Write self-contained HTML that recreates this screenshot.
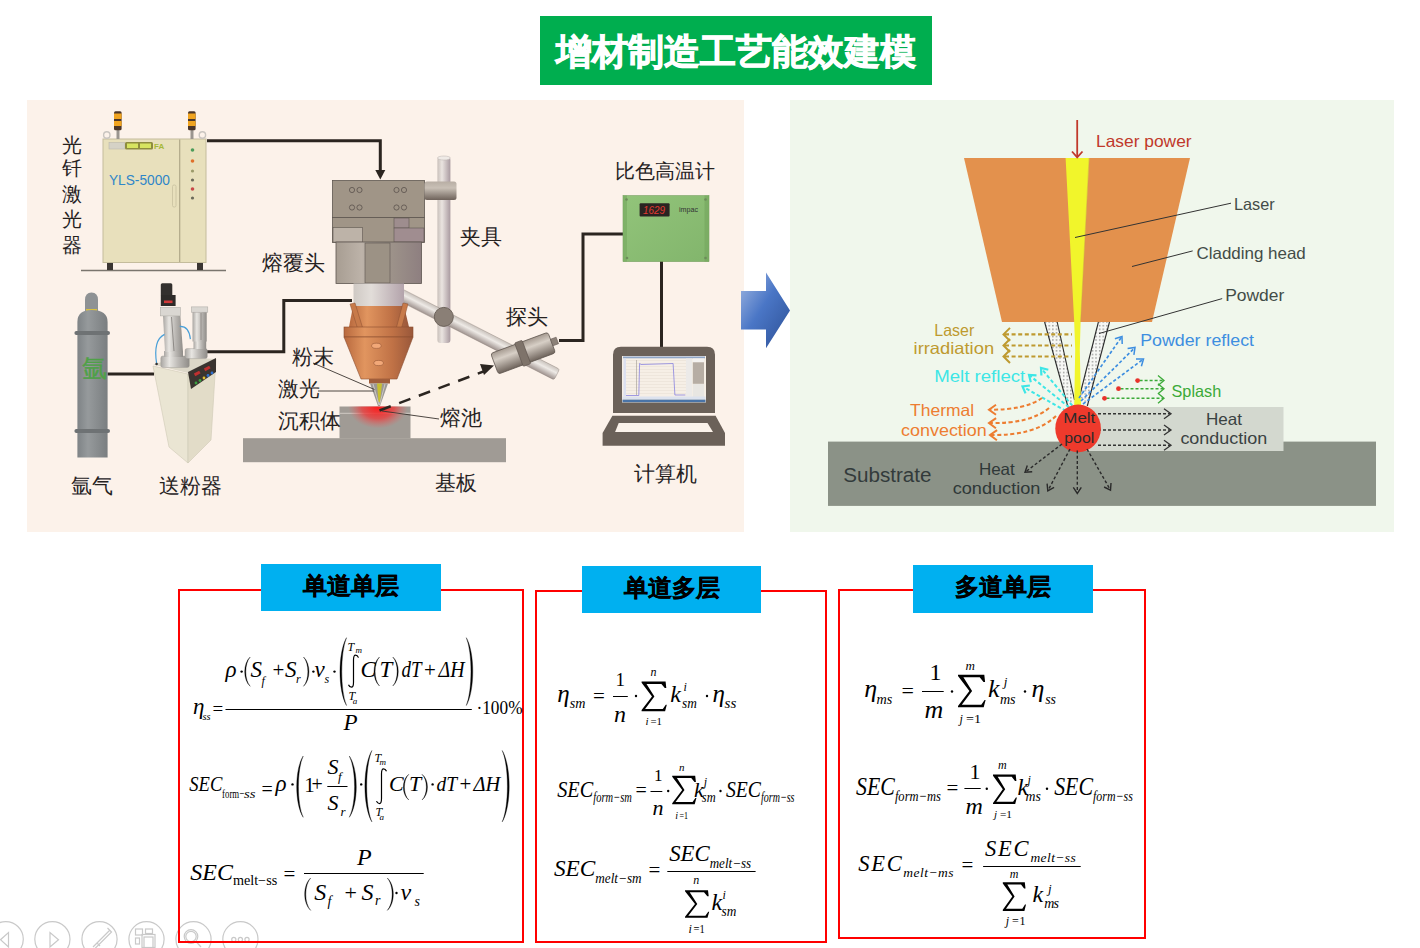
<!DOCTYPE html>
<html><head><meta charset="utf-8">
<style>
*{margin:0;padding:0;box-sizing:border-box}
html,body{width:1420px;height:948px;overflow:hidden;background:#fff}
body{position:relative;font-family:"Liberation Sans",sans-serif}
.abs{position:absolute}
#title{left:540px;top:16px;width:392px;height:69px;background:#00AE4F;color:#fff;font-weight:900;font-size:36px;line-height:71px;text-align:center;letter-spacing:0px;-webkit-text-stroke:0.9px #fff}
#lp{left:27px;top:100px;width:717px;height:432px;background:#FCF2EA}
#rp{left:790px;top:100px;width:604px;height:432px;background:#F0F7EC}
.rbox{position:absolute;border:2px solid #FF0000}
.bhead{position:absolute;background:#00B0F0;color:#000;font-weight:bold;font-size:24px;text-align:center;-webkit-text-stroke:0.4px #000}
svg{position:absolute;left:0;top:0}
</style></head><body>
<div id="title" class="abs">增材制造工艺能效建模</div>
<div id="lp" class="abs"></div>
<div id="rp" class="abs"></div>

<!--LEFT-->
<svg width="1420" height="948" viewBox="0 0 1420 948" style="position:absolute;left:0;top:0" font-family="Liberation Sans, sans-serif">
<defs>
<linearGradient id="cyl" x1="0" y1="0" x2="1" y2="0"><stop offset="0" stop-color="#A79D92"/><stop offset="0.3" stop-color="#BDB3A9"/><stop offset="0.6" stop-color="#9F958B"/><stop offset="1" stop-color="#8E7F80"/></linearGradient>
<linearGradient id="cyl2" x1="0" y1="0" x2="1" y2="0"><stop offset="0" stop-color="#CFC9C4"/><stop offset="0.35" stop-color="#E2DDD9"/><stop offset="1" stop-color="#B3A3AB"/></linearGradient>
<linearGradient id="cop" x1="0" y1="0" x2="1" y2="0"><stop offset="0" stop-color="#B8693E"/><stop offset="0.3" stop-color="#E1955F"/><stop offset="0.7" stop-color="#C07246"/><stop offset="1" stop-color="#99573A"/></linearGradient>
<linearGradient id="rod" x1="0" y1="0" x2="1" y2="0"><stop offset="0" stop-color="#C9C0BA"/><stop offset="0.35" stop-color="#EAE4E0"/><stop offset="1" stop-color="#A99AA0"/></linearGradient>
<linearGradient id="arm" x1="0" y1="0" x2="0" y2="1"><stop offset="0" stop-color="#C9C2BC"/><stop offset="0.4" stop-color="#EEEAE6"/><stop offset="1" stop-color="#9F938F"/></linearGradient>
<linearGradient id="probe" x1="0" y1="0" x2="0" y2="1"><stop offset="0" stop-color="#A59A90"/><stop offset="0.35" stop-color="#D7CFC6"/><stop offset="1" stop-color="#6F645C"/></linearGradient>
<linearGradient id="gas" x1="0" y1="0" x2="1" y2="0"><stop offset="0" stop-color="#7E8386"/><stop offset="0.35" stop-color="#969A9C"/><stop offset="1" stop-color="#7A7E80"/></linearGradient>
<linearGradient id="tube" x1="0" y1="0" x2="1" y2="0"><stop offset="0" stop-color="#A9A6A2"/><stop offset="0.3" stop-color="#E8E6E2"/><stop offset="0.6" stop-color="#BEBBB7"/><stop offset="1" stop-color="#8F8C88"/></linearGradient>
<radialGradient id="glow2" cx="0.5" cy="0.5" r="0.5"><stop offset="0" stop-color="#FF1818"/><stop offset="0.55" stop-color="#F03838" stop-opacity="0.75"/><stop offset="1" stop-color="#E86060" stop-opacity="0"/></radialGradient>
<radialGradient id="glow" cx="0.5" cy="0.2" r="0.6"><stop offset="0" stop-color="#FF2020" stop-opacity="0.95"/><stop offset="0.5" stop-color="#F04040" stop-opacity="0.6"/><stop offset="1" stop-color="#F06060" stop-opacity="0"/></radialGradient>
<linearGradient id="pyro" x1="0" y1="0" x2="1" y2="1"><stop offset="0" stop-color="#92C47A"/><stop offset="1" stop-color="#82B56C"/></linearGradient>
</defs>

<!-- ===== laser cabinet ===== -->
<line x1="81" y1="270.5" x2="226" y2="270.5" stroke="#7A756E" stroke-width="1.5"/>
<rect x="107" y="262" width="6" height="8" fill="#3a3532"/><rect x="197" y="262" width="6" height="8" fill="#3a3532"/>
<rect x="103" y="139" width="103" height="123.5" fill="#E8E0BC" stroke="#C4BC9C" stroke-width="1"/>
<line x1="179.7" y1="139.5" x2="179.7" y2="262" stroke="#B0A888" stroke-width="1.2"/>
<rect x="109" y="142.5" width="16" height="6.5" fill="#D5D2C6" stroke="#BBB8AC" stroke-width="0.6"/>
<rect x="125" y="142" width="28" height="7.5" rx="1.5" fill="#8E8C3E"/>
<rect x="127" y="143.5" width="11" height="4.5" fill="#D7E460"/><rect x="140" y="143.5" width="11" height="4.5" fill="#D7E460"/>
<text x="154" y="149" font-size="8" fill="#A6B83A" font-weight="bold">FA</text>
<rect x="172.5" y="185" width="3.5" height="22" rx="1.5" fill="none" stroke="#C8C0A0" stroke-width="0.8"/>
<circle cx="192.5" cy="150" r="1.8" fill="#4C9C5A"/><circle cx="192.5" cy="161" r="1.8" fill="#E0702A"/>
<circle cx="192.5" cy="171" r="1.6" fill="#9B9A6A"/><circle cx="192.5" cy="180" r="1.6" fill="#6B6A5A"/><circle cx="192.5" cy="189" r="1.8" fill="#C84848"/><circle cx="192.5" cy="198" r="1.6" fill="#6B6A5A"/>
<circle cx="106.8" cy="135" r="3.2" fill="none" stroke="#C9C5C0" stroke-width="1.4"/><circle cx="202.4" cy="135" r="3.2" fill="none" stroke="#C9C5C0" stroke-width="1.4"/>
<rect x="116.5" y="130" width="3" height="9" fill="#9A958F"/><rect x="190.5" y="130" width="3" height="9" fill="#9A958F"/>
<g>
<rect x="114" y="111.3" width="7.6" height="19" rx="1.5" fill="#4A3528"/>
<rect x="114" y="113.5" width="7.6" height="5.5" fill="#F0A420"/><rect x="114" y="121" width="7.6" height="5" fill="#F0A420"/>
<rect x="188" y="111.3" width="7.6" height="19" rx="1.5" fill="#4A3528"/>
<rect x="188" y="113.5" width="7.6" height="5.5" fill="#F0A420"/><rect x="188" y="121" width="7.6" height="5" fill="#F0A420"/>
</g>
<text x="108.9" y="184.5" font-size="15" fill="#2E86C8" textLength="61" lengthAdjust="spacingAndGlyphs">YLS-5000</text>

<!-- ===== connection lines ===== -->
<g stroke="#2B2520" stroke-width="3" fill="none">
<polyline points="207,140.7 380.3,140.7 380.3,171"/>
<polyline points="107.5,374 154,374"/>
<polyline points="207,351.8 283.8,351.8 283.8,300.6 352,300.6"/>
<polyline points="559,340.6 583,340.6 583,234 623,234"/>
<line x1="661.5" y1="261" x2="661.5" y2="347"/>
</g>
<polygon points="375.3,170 385.3,170 380.3,179.5" fill="#2B2520"/>

<!-- ===== argon cylinder ===== -->
<path d="M85,312 L85,300 Q85,292.5 91.5,292.5 Q98,292.5 98,300 L98,312 Z" fill="#8E9294"/>
<rect x="86" y="309" width="11" height="2" fill="#D8C040"/>
<path d="M77.4,457.5 L77.4,322 Q77.4,310 91.5,310 Q107.6,310 107.6,322 L107.6,457.5 Z" fill="url(#gas)"/>
<rect x="74.4" y="331" width="35.6" height="4" rx="2" fill="#6E7274"/>
<rect x="74.4" y="429" width="35.6" height="4" rx="2" fill="#6E7274"/>
<text x="81.5" y="377" font-size="25" fill="#4FA048" textLength="25" lengthAdjust="spacingAndGlyphs" stroke="#4FA048" stroke-width="0.4">氩</text>

<!-- ===== powder feeder ===== -->
<polygon points="153,366 188,374 188,463 169,447" fill="#EAE5D3" stroke="#CFC9B5" stroke-width="0.6"/>
<polygon points="188,374 216,359 211,440 188,463" fill="#E2DCC8" stroke="#CFC9B5" stroke-width="0.6"/>
<polygon points="153,364.5 180,357 216,359 188,373" fill="#DCD7C8"/>
<polygon points="188,372 216,358 216,372 191,389" fill="#3A3430"/>
<rect x="194" y="372" width="6" height="3" fill="#C03030" transform="rotate(-28 197 373)"/><rect x="204" y="367" width="6" height="3" fill="#C03030" transform="rotate(-28 207 368)"/>
<circle cx="196" cy="383" r="1.4" fill="#3BA040"/><circle cx="200" cy="380.5" r="1.4" fill="#3BA040"/><circle cx="204" cy="378" r="1.4" fill="#E0C030"/><circle cx="208" cy="375.5" r="1.4" fill="#3070D0"/><circle cx="212" cy="373" r="1.4" fill="#3070D0"/>
<rect x="160.8" y="356" width="28.5" height="11.5" rx="2" fill="url(#tube)" stroke="#9A9792" stroke-width="0.4"/>
<rect x="164" y="351" width="19" height="6" fill="url(#tube)"/>
<polygon points="163,316 180.4,316 183,352 165,352" fill="url(#tube)"/>
<line x1="171.5" y1="317" x2="174" y2="351" stroke="#7E7A76" stroke-width="0.8"/>
<rect x="160.3" y="307.4" width="20.1" height="8.5" fill="#DAD7D2" stroke="#A8A5A0" stroke-width="0.5"/>
<rect x="160.8" y="283.2" width="11.5" height="13" rx="1.5" fill="#33302E"/>
<rect x="160.8" y="295" width="14.8" height="11" fill="#2E2B29"/>
<rect x="164" y="300.5" width="8.5" height="2.6" fill="#D03838"/>
<rect x="185" y="348.6" width="22.3" height="10" rx="2" fill="url(#tube)" stroke="#9A9792" stroke-width="0.4"/>
<rect x="193.5" y="341" width="12.7" height="8" fill="url(#tube)"/>
<rect x="192.5" y="312" width="14.2" height="29.5" fill="url(#tube)"/>
<line x1="201" y1="313" x2="201" y2="340" stroke="#7E7A76" stroke-width="0.7"/>
<rect x="191.4" y="306.9" width="16.4" height="5.3" fill="#DAD7D2" stroke="#A8A5A0" stroke-width="0.5"/>
<path d="M156.6,363.4 Q153,340 164.5,334.4" fill="none" stroke="#4AA0D8" stroke-width="1.2"/>
<path d="M179.8,326.4 Q189,326 190.4,339.1" fill="none" stroke="#4AA0D8" stroke-width="1.2"/>
<circle cx="156.6" cy="364" r="1.3" fill="#333"/>

<!-- ===== base plate & deposit ===== -->
<rect x="243" y="438.2" width="263" height="24" fill="#A09B95"/>
<rect x="339.5" y="406.5" width="71" height="32" fill="#A09B95"/>
<line x1="339.5" y1="413.3" x2="410.5" y2="413.3" stroke="#DDD6D0" stroke-width="0.8"/>
<clipPath id="depclip"><rect x="339.5" y="406.5" width="71" height="32"/></clipPath><ellipse cx="378" cy="406.5" rx="30" ry="22" fill="url(#glow2)" clip-path="url(#depclip)"/>

<!-- ===== fixture rod ===== -->
<rect x="437.4" y="157" width="13" height="186" rx="3" fill="url(#rod)"/>
<ellipse cx="443.9" cy="158" rx="6.5" ry="2" fill="#EFEAE6" stroke="#B8B0AC" stroke-width="0.5"/>
<!-- probe arm -->
<g transform="translate(400,294.6) rotate(27)">
<rect x="0" y="-6" width="176" height="12" rx="2" fill="url(#arm)" stroke="#8C807A" stroke-width="0.4"/>
</g>
<circle cx="443.8" cy="316.9" r="9.5" fill="#8A7F76" stroke="#6C625A" stroke-width="1"/>

<!-- ===== cladding head ===== -->
<rect x="332.5" y="180.5" width="92" height="37" fill="#A09587" stroke="#5E5650" stroke-width="0.8"/>
<rect x="332.5" y="217.5" width="92" height="25" fill="#A09587" stroke="#5E5650" stroke-width="0.8"/>
<rect x="333" y="227.6" width="29.5" height="14.5" fill="#BDB3A8" stroke="#5E5650" stroke-width="0.6"/>
<rect x="394" y="218" width="15" height="10" fill="#9E8D8E" stroke="#5E5650" stroke-width="0.6"/>
<rect x="394" y="228" width="30" height="14" fill="#A08D90" stroke="#5E5650" stroke-width="0.6"/>
<g fill="none" stroke="#5A524C" stroke-width="0.8">
<circle cx="352" cy="190" r="2.6"/><circle cx="359.5" cy="190" r="2.6"/><circle cx="352" cy="207.5" r="2.6"/><circle cx="359.5" cy="207.5" r="2.6"/>
<circle cx="396.5" cy="190" r="2.6"/><circle cx="404" cy="190" r="2.6"/><circle cx="396.5" cy="207.5" r="2.6"/><circle cx="404" cy="207.5" r="2.6"/>
</g>
<!-- clamp -->
<linearGradient id="clampg" x1="0" y1="0" x2="0" y2="1"><stop offset="0" stop-color="#B8AEA4"/><stop offset="0.35" stop-color="#C9C0B6"/><stop offset="1" stop-color="#6E625A"/></linearGradient>
<rect x="424.5" y="181.5" width="32" height="18.5" rx="2.5" fill="url(#clampg)"/>
<rect x="336" y="242" width="85.5" height="41.5" fill="url(#cyl)" stroke="#5E5650" stroke-width="0.8"/>
<rect x="365" y="243" width="25" height="40" fill="#9C9285" stroke="#5E5650" stroke-width="0.6"/>
<rect x="353.5" y="283.5" width="50.5" height="22.5" fill="url(#cyl2)"/>
<!-- copper -->
<polygon points="353,306 404,306 409,327 349,327" fill="url(#cop)"/>
<polygon points="350,304 355,303 363,329 358,330" fill="#C77A4A" stroke="#8A4E30" stroke-width="0.5"/>
<polygon points="403,303 408,304 401,330 396,329" fill="#C77A4A" stroke="#8A4E30" stroke-width="0.5"/>
<rect x="344" y="327" width="69" height="10" fill="url(#cop)" stroke="#8A4E30" stroke-width="0.6"/>
<polygon points="344,337 413,337 397,379 361,379" fill="url(#cop)" stroke="#8A4E30" stroke-width="0.6"/>
<rect x="369" y="379" width="21" height="4.5" fill="#A05E3C"/>
<ellipse cx="376.4" cy="345.8" rx="4.8" ry="2.6" fill="#F2A878" stroke="#8A4E30" stroke-width="0.5"/>
<ellipse cx="378.6" cy="363" rx="4.8" ry="2.6" fill="#F2A878" stroke="#8A4E30" stroke-width="0.5"/>
<polygon points="370,383.5 388,383.5 380,406 378,406" fill="#9C9894"/>
<polygon points="377,383.5 382,383.5 380,402 378.5,402" fill="#C8C030"/>
<line x1="373" y1="384" x2="379" y2="405" stroke="#E0DCD8" stroke-width="0.7"/>
<line x1="385" y1="384" x2="379.5" y2="405" stroke="#E0DCD8" stroke-width="0.7"/>

<!-- ===== probe ===== -->
<g transform="translate(496.4,363.1) rotate(-20.4)">
<rect x="-2" y="-11" width="61" height="22" rx="2.5" fill="url(#probe)" stroke="#5C524C" stroke-width="0.7"/>
<rect x="24" y="-12.5" width="8" height="25" rx="1.2" fill="#7E736A" stroke="#5C524C" stroke-width="0.6"/>
<rect x="59" y="-3.5" width="6" height="7" fill="#8C8178" stroke="#5C524C" stroke-width="0.5"/>
</g>
<!-- dashed sight line -->
<line x1="379.5" y1="410.5" x2="486" y2="370.5" stroke="#2B2520" stroke-width="2.5" stroke-dasharray="12,9"/>
<polygon points="494,365.5 480,364 484,375" fill="#2B2520"/>

<!-- ===== pyrometer ===== -->
<rect x="623" y="195.6" width="86" height="66" fill="url(#pyro)" stroke="#76A060" stroke-width="0.6"/>
<rect x="623" y="195.6" width="4" height="66" fill="#7AAE64" opacity="0.8"/><rect x="704.5" y="195.6" width="4.5" height="66" fill="#78AA62" opacity="0.8"/><circle cx="626.5" cy="199.5" r="1.3" fill="#6C8C5A"/><circle cx="705.5" cy="199.5" r="1.3" fill="#6C8C5A"/><circle cx="627" cy="258" r="1.3" fill="#6C8C5A"/><circle cx="705.5" cy="258" r="1.3" fill="#6C8C5A"/>
<rect x="639.6" y="203.3" width="30" height="13.2" rx="1" fill="#2A2422"/>
<text x="643" y="214" font-size="10" fill="#E03A30" font-style="italic" textLength="22" lengthAdjust="spacingAndGlyphs">1629</text>
<text x="679" y="211.5" font-size="7" fill="#333" textLength="19" lengthAdjust="spacingAndGlyphs">impac</text>

<!-- ===== laptop ===== -->
<path d="M613,412.9 L613,354.7 Q613,346.7 621,346.7 L707,346.7 Q715,346.7 715,354.7 L715,412.9 Z" fill="#6B6159"/>
<rect x="622" y="356" width="84" height="46.5" fill="#F6EFE6"/>
<rect x="623" y="356.5" width="82" height="1.8" fill="#8FA6C8"/>
<rect x="623.5" y="358.5" width="2.5" height="38" fill="#DCE0F0"/>
<g stroke="#E6DCD2" stroke-width="0.5"><line x1="626" y1="360.5" x2="686" y2="360.5"/><line x1="626" y1="363.5" x2="686" y2="363.5"/><line x1="626" y1="366.5" x2="686" y2="366.5"/><line x1="626" y1="369.5" x2="686" y2="369.5"/><line x1="626" y1="372.5" x2="686" y2="372.5"/><line x1="626" y1="375.5" x2="686" y2="375.5"/><line x1="626" y1="378.5" x2="686" y2="378.5"/><line x1="626" y1="381.5" x2="686" y2="381.5"/><line x1="626" y1="384.5" x2="686" y2="384.5"/><line x1="626" y1="387.5" x2="686" y2="387.5"/><line x1="626" y1="390.5" x2="686" y2="390.5"/><line x1="626" y1="393.5" x2="686" y2="393.5"/></g>
<line x1="636.5" y1="360" x2="636.5" y2="395" stroke="#A09890" stroke-width="0.6"/>
<polyline points="626,395.5 638.8,395.5 639.6,363.4 641,364.5 673.1,363.5 674.9,395 685.4,395" fill="none" stroke="#7A74E0" stroke-width="0.7"/>
<rect x="686" y="358.5" width="6" height="38" fill="#ECEAE8"/>
<rect x="692.8" y="358.5" width="11.2" height="3.5" fill="#F4F2F0"/>
<rect x="692.8" y="362.3" width="11.2" height="21.5" fill="#B6ADA4"/>
<rect x="692.8" y="384" width="11.2" height="15" fill="#E8E6E2"/>
<rect x="622.5" y="396.5" width="83" height="2.5" fill="#DCE2EE"/>
<rect x="622.5" y="399.6" width="83" height="2.6" fill="#4A74A8"/>
<polygon points="612.4,415.8 715.6,415.8 725,433 725,445.7 602.6,445.7 602.6,433" fill="#6B6159"/>
<polygon points="618.7,423 707.5,423 713,432 615.1,432" fill="#FBF2EA"/>

<!-- ===== leader lines ===== -->
<g stroke="#3A3430" stroke-width="0.9">
<line x1="313" y1="363" x2="374.5" y2="389.5"/>
<line x1="318" y1="391" x2="374" y2="391"/>
<line x1="382" y1="411" x2="439" y2="419"/>
</g>
<g fill="#26221F" id="cjklabels">
<text x="262" y="270" font-size="21">熔覆头</text>
<text x="460" y="244.3" font-size="20.5">夹具</text>
<text x="292.4" y="364" font-size="20.5">粉末</text>
<text x="278" y="395.5" font-size="20.5">激光</text>
<text x="278" y="427.5" font-size="20.5">沉积体</text>
<text x="439.5" y="425" font-size="20.5">熔池</text>
<text x="434.7" y="490" font-size="20.5">基板</text>
<text x="506.2" y="323.8" font-size="20.5">探头</text>
<text x="614.8" y="177.6" font-size="20.4">比色高温计</text>
<text x="634" y="480.5" font-size="21">计算机</text>
<text x="70.6" y="492.5" font-size="20.5">氩气</text>
<text x="159" y="492.5" font-size="20.5">送粉器</text>
<text x="62" y="151.6" font-size="20">光</text>
<text x="62" y="175.4" font-size="20">钎</text>
<text x="62" y="201.0" font-size="20">激</text>
<text x="62" y="225.7" font-size="20">光</text>
<text x="62" y="252.2" font-size="20">器</text>
</g>
</svg>
<!--/LEFT-->
<!--RIGHT-->
<svg width="1420" height="948" viewBox="0 0 1420 948" style="position:absolute;left:0;top:0" font-family="Liberation Sans, sans-serif">
<defs><pattern id="dots" width="3.6" height="3.6" patternUnits="userSpaceOnUse"><rect width="3.6" height="3.6" fill="#F7F8F5"/><rect x="1.2" y="1.2" width="1" height="1" fill="#333"/></pattern><linearGradient id="barrow" x1="0" y1="0" x2="1" y2="1"><stop offset="0" stop-color="#A3B9E2"/><stop offset="0.45" stop-color="#4A76C6"/><stop offset="1" stop-color="#2C4F94"/></linearGradient></defs>
<polygon points="741,291 766,291 766,272.4 790,310.4 766,348.3 766,329.6 741,329.6" fill="url(#barrow)"/>
<rect x="828" y="441.6" width="548" height="64.3" fill="#8B9287"/>
<rect x="1078" y="407" width="205.5" height="44" fill="#D3D8CF"/>
<polygon points="964,158 1190,158 1152,322 1002,322" fill="#E3914D"/>
<polygon points="1044.6,322 1057.2,322 1074.5,400 1068,407" fill="url(#dots)"/>
<polygon points="1098.4,322 1109.5,322 1087.3,406 1079.4,397" fill="url(#dots)"/>
<g stroke="#2a2a2a" stroke-width="1.1"><line x1="1044.6" y1="322" x2="1068" y2="407"/><line x1="1057.2" y1="322" x2="1074.5" y2="400"/><line x1="1109.5" y1="322" x2="1087.3" y2="406"/><line x1="1098.4" y1="322" x2="1079.4" y2="397"/></g>
<polygon points="1065.6,158 1089.3,158 1080.6,322 1079.8,350 1081,405 1074.2,405 1075.2,350 1074.2,322" fill="#F1F52B"/>
<line x1="1089" y1="158" x2="1080.6" y2="322" stroke="#C9A050" stroke-width="0.8" opacity="0.5"/>
<line x1="1077.2" y1="120" x2="1077.2" y2="157" stroke="#C0392B" stroke-width="1.8"/><polyline points="1072,151.5 1077.2,157.3 1082.5,151.5" fill="none" stroke="#C0392B" stroke-width="1.8"/>
<g stroke="#333" stroke-width="1"><line x1="1075" y1="237.5" x2="1231" y2="203.2"/><line x1="1132" y1="266.5" x2="1192.7" y2="250.9"/><line x1="1099" y1="333.5" x2="1222.2" y2="298.6"/></g>
<line x1="1005" y1="334.4" x2="1072" y2="334.4" stroke="#BE9A2F" stroke-width="2.1" stroke-dasharray="4,2.6"/>
<polyline points="1010,327.9 1003.5,334.4 1010,340.9" fill="none" stroke="#BE9A2F" stroke-width="2"/>
<line x1="1005" y1="345.5" x2="1072" y2="345.5" stroke="#BE9A2F" stroke-width="2.1" stroke-dasharray="4,2.6"/>
<polyline points="1010,339.0 1003.5,345.5 1010,352.0" fill="none" stroke="#BE9A2F" stroke-width="2"/>
<line x1="1005" y1="356.5" x2="1072" y2="356.5" stroke="#BE9A2F" stroke-width="2.1" stroke-dasharray="4,2.6"/>
<polyline points="1010,350.0 1003.5,356.5 1010,363.0" fill="none" stroke="#BE9A2F" stroke-width="2"/>
<line x1="1072.3" y1="405.7" x2="1041.6" y2="368.8" stroke="#3DE6E6" stroke-width="2" stroke-dasharray="3.6,2.4"/><polyline points="1048.3,369.7 1041.0,368.0 1041.4,375.5" fill="none" stroke="#3DE6E6" stroke-width="2.2"/>
<line x1="1069.0" y1="407.3" x2="1029.8" y2="375.6" stroke="#3DE6E6" stroke-width="2" stroke-dasharray="3.6,2.4"/><polyline points="1036.5,375.3 1029.0,375.0 1030.8,382.3" fill="none" stroke="#3DE6E6" stroke-width="2.2"/>
<line x1="1066.0" y1="411.0" x2="1023.4" y2="387.0" stroke="#3DE6E6" stroke-width="2" stroke-dasharray="3.6,2.4"/><polyline points="1029.9,385.5 1022.5,386.5 1025.5,393.4" fill="none" stroke="#3DE6E6" stroke-width="2.2"/>
<line x1="1079.0" y1="398.0" x2="1121.4" y2="337.3" stroke="#3D8EE0" stroke-width="1.7" stroke-dasharray="3.2,2.2"/><polyline points="1122.2,344.0 1122.0,336.5 1114.9,338.8" fill="none" stroke="#3D8EE0" stroke-width="1.5"/>
<line x1="1081.0" y1="401.0" x2="1134.3" y2="348.2" stroke="#3D8EE0" stroke-width="1.7" stroke-dasharray="3.2,2.2"/><polyline points="1133.9,354.9 1135.0,347.5 1127.6,348.5" fill="none" stroke="#3D8EE0" stroke-width="1.5"/>
<line x1="1083.0" y1="404.0" x2="1142.7" y2="359.6" stroke="#3D8EE0" stroke-width="1.7" stroke-dasharray="3.2,2.2"/><polyline points="1141.4,366.2 1143.5,359.0 1136.0,359.0" fill="none" stroke="#3D8EE0" stroke-width="1.5"/>
<line x1="1139.6" y1="380.6" x2="1163" y2="380.6" stroke="#3BAA38" stroke-width="1.5" stroke-dasharray="3,2"/>
<polyline points="1158,375.6 1164,380.6 1158,385.6" fill="none" stroke="#3BAA38" stroke-width="1.3"/>
<circle cx="1137.6" cy="380.6" r="2.4" fill="#E8322B"/>
<line x1="1120.5" y1="388.7" x2="1163" y2="388.7" stroke="#3BAA38" stroke-width="1.5" stroke-dasharray="3,2"/>
<polyline points="1158,383.7 1164,388.7 1158,393.7" fill="none" stroke="#3BAA38" stroke-width="1.3"/>
<circle cx="1118.5" cy="388.7" r="2.4" fill="#E8322B"/>
<line x1="1106.5" y1="398.3" x2="1163" y2="398.3" stroke="#3BAA38" stroke-width="1.5" stroke-dasharray="3,2"/>
<polyline points="1158,393.3 1164,398.3 1158,403.3" fill="none" stroke="#3BAA38" stroke-width="1.3"/>
<circle cx="1104.5" cy="398.3" r="2.4" fill="#E8322B"/>
<path d="M1042,398 Q1025,410 989,409.7" fill="none" stroke="#ED7D31" stroke-width="2.1" stroke-dasharray="4,2.6"/><polyline points="996.0,404.8 989.0,409.7 996.0,414.8" fill="none" stroke="#ED7D31" stroke-width="2"/>
<path d="M1049,408 Q1030,424 989,423" fill="none" stroke="#ED7D31" stroke-width="2.1" stroke-dasharray="4,2.6"/><polyline points="996.1,418.2 989.0,423.0 995.9,428.2" fill="none" stroke="#ED7D31" stroke-width="2"/>
<path d="M1056,416 Q1035,436 990,435" fill="none" stroke="#ED7D31" stroke-width="2.1" stroke-dasharray="4,2.6"/><polyline points="997.1,430.2 990.0,435.0 996.9,440.2" fill="none" stroke="#ED7D31" stroke-width="2"/>
<line x1="1098.0" y1="413.8" x2="1170.0" y2="413.8" stroke="#333" stroke-width="1.4" stroke-dasharray="3,2"/><polyline points="1164.0,418.8 1171.0,413.8 1164.0,408.8" fill="none" stroke="#333" stroke-width="1.3"/>
<line x1="1098.0" y1="430.0" x2="1170.0" y2="430.0" stroke="#333" stroke-width="1.4" stroke-dasharray="3,2"/><polyline points="1164.0,435.0 1171.0,430.0 1164.0,425.0" fill="none" stroke="#333" stroke-width="1.3"/>
<line x1="1098.0" y1="445.3" x2="1170.0" y2="445.3" stroke="#333" stroke-width="1.4" stroke-dasharray="3,2"/><polyline points="1164.0,450.3 1171.0,445.3 1164.0,440.3" fill="none" stroke="#333" stroke-width="1.3"/>
<ellipse cx="1078.1" cy="428.4" rx="22.8" ry="23.8" fill="#EE3A2C"/>
<line x1="1062.0" y1="444.0" x2="1025.8" y2="471.7" stroke="#2a2a2a" stroke-width="1.4" stroke-dasharray="3,2.2"/><polyline points="1027.3,465.5 1025.0,472.3 1032.2,471.8" fill="none" stroke="#2a2a2a" stroke-width="1.4"/>
<line x1="1070.0" y1="449.0" x2="1048.3" y2="489.9" stroke="#2a2a2a" stroke-width="1.4" stroke-dasharray="3,2.2"/><polyline points="1047.1,483.6 1047.8,490.8 1054.1,487.4" fill="none" stroke="#2a2a2a" stroke-width="1.4"/>
<line x1="1077.3" y1="450.5" x2="1077.3" y2="492.4" stroke="#2a2a2a" stroke-width="1.4" stroke-dasharray="3,2.2"/><polyline points="1073.3,487.4 1077.3,493.4 1081.3,487.4" fill="none" stroke="#2a2a2a" stroke-width="1.4"/>
<line x1="1087.0" y1="449.0" x2="1110.0" y2="489.3" stroke="#2a2a2a" stroke-width="1.4" stroke-dasharray="3,2.2"/><polyline points="1104.1,487.0 1110.5,490.2 1111.0,483.0" fill="none" stroke="#2a2a2a" stroke-width="1.4"/>
<text x="1096" y="147" textLength="95.6" lengthAdjust="spacingAndGlyphs" fill="#C0392B" font-size="16.5">Laser power</text>
<text x="1234" y="210" textLength="40.7" lengthAdjust="spacingAndGlyphs" fill="#434C47" font-size="16.5">Laser</text>
<text x="1196.5" y="258.7" textLength="109.3" lengthAdjust="spacingAndGlyphs" fill="#434C47" font-size="16.5">Cladding head</text>
<text x="1225.2" y="300.8" textLength="59.1" lengthAdjust="spacingAndGlyphs" fill="#434C47" font-size="16.5">Powder</text>
<text x="934.3" y="335.8" textLength="39.9" lengthAdjust="spacingAndGlyphs" fill="#BE9A2F" font-size="16.5">Laser</text>
<text x="913.6" y="354.3" textLength="80.5" lengthAdjust="spacingAndGlyphs" fill="#BE9A2F" font-size="16.5">irradiation</text>
<text x="934.3" y="381.9" textLength="90.9" lengthAdjust="spacingAndGlyphs" fill="#3DE6E6" font-size="16.5">Melt reflect</text>
<text x="910" y="416.4" textLength="64.2" lengthAdjust="spacingAndGlyphs" fill="#ED7D31" font-size="16.5">Thermal</text>
<text x="901" y="435.6" textLength="85.8" lengthAdjust="spacingAndGlyphs" fill="#ED7D31" font-size="16.5">convection</text>
<text x="1140.2" y="345.8" textLength="113.8" lengthAdjust="spacingAndGlyphs" fill="#3D8EE0" font-size="16.5">Powder reflect</text>
<text x="1171.5" y="396.5" textLength="49.7" lengthAdjust="spacingAndGlyphs" fill="#3BAA38" font-size="16.5">Splash</text>
<text x="1206" y="424.6" textLength="36" lengthAdjust="spacingAndGlyphs" fill="#3A4242" font-size="16.5">Heat</text>
<text x="1180.4" y="444.2" textLength="86.9" lengthAdjust="spacingAndGlyphs" fill="#3A4242" font-size="16.5">conduction</text>
<text x="1063.3" y="422.8" textLength="32" lengthAdjust="spacingAndGlyphs" fill="#2A2A2A" font-size="15">Melt</text>
<text x="1064.3" y="443.4" textLength="30" lengthAdjust="spacingAndGlyphs" fill="#2A2A2A" font-size="15">pool</text>
<text x="843.2" y="481.8" textLength="88.4" lengthAdjust="spacingAndGlyphs" fill="#333B3B" font-size="20">Substrate</text>
<text x="978.9" y="475.4" textLength="35.9" lengthAdjust="spacingAndGlyphs" fill="#2F3838" font-size="16.5">Heat</text>
<text x="952.7" y="494.4" textLength="87.7" lengthAdjust="spacingAndGlyphs" fill="#2F3838" font-size="16.5">conduction</text>
</svg>
<!--/RIGHT-->
<!--NAV-->
<svg width="1420" height="948" viewBox="0 0 1420 948" style="position:absolute;left:0;top:0" fill="none" stroke="#C9C9C9" stroke-width="1.2">
<circle cx="5.7" cy="939.2" r="17.6"/>
<circle cx="52.4" cy="939.2" r="17.6"/>
<circle cx="99.5" cy="939.2" r="17.6"/>
<circle cx="146.5" cy="939.3" r="17.6"/>
<circle cx="193.5" cy="939.3" r="17.6"/>
<circle cx="240.4" cy="939.3" r="17.6"/>
<polygon points="8.5,932.5 8.5,947 0.5,939.7"/>
<polygon points="50,932.5 50,947 58.5,939.7"/>
<path d="M110,930 L93,947 M107.5,928 L111.5,932 L95,948.5 M97,943 L100,946"/>
<rect x="135.5" y="929" width="7" height="6"/><rect x="145.5" y="929" width="7" height="4.5"/><rect x="135.5" y="938" width="4" height="6"/>
<rect x="142" y="934.5" width="13" height="13"/><rect x="144" y="937" width="9" height="11"/>
<circle cx="191" cy="936.5" r="6.8"/><circle cx="191" cy="936.5" r="5.2"/><path d="M196,941.5 L201,947"/>
<circle cx="233.8" cy="939.5" r="2.1"/><circle cx="240.4" cy="939.5" r="2.1"/><circle cx="247" cy="939.5" r="2.1"/>
</svg>

<!--/NAV-->
<div class="rbox" style="left:178px;top:589px;width:346px;height:354px"></div>
<div class="rbox" style="left:535px;top:590px;width:292px;height:353px"></div>
<div class="rbox" style="left:838px;top:589px;width:308px;height:350px"></div>
<div class="bhead" style="left:261px;top:564px;width:180px;height:47px;line-height:43px">单道单层</div>
<div class="bhead" style="left:582px;top:566px;width:179px;height:47px;line-height:43px">单道多层</div>
<div class="bhead" style="left:913px;top:565px;width:180px;height:48px;line-height:44px">多道单层</div>

<!--FORM-->
<svg width="1420" height="948" viewBox="0 0 1420 948" style="position:absolute;left:0;top:0" font-family="Liberation Serif, serif" fill="#000">
<text x="193" y="714" font-size="23" font-style="italic">η</text>
<text x="202.5" y="720" font-size="11" font-style="italic" textLength="8" lengthAdjust="spacingAndGlyphs">ss</text>
<text x="212.5" y="715" font-size="19">=</text>
<line x1="225.5" y1="709.5" x2="471.8" y2="709.5" stroke="#000" stroke-width="1.05"/>
<text x="476.5" y="714" font-size="19" textLength="46" lengthAdjust="spacingAndGlyphs">·100%</text>
<text x="225.5" y="676.5" font-size="23" font-style="italic">ρ</text>
<circle cx="241.6" cy="671.6" r="1.2" fill="#000"/>
<path d="M250.20,657.00 C242.87,663.45 242.87,679.85 250.20,686.30 C244.33,679.85 244.33,663.45 250.20,657.00 Z" fill="#000" stroke="#000" stroke-width="0.35"/>
<text x="250.5" y="676.5" font-size="23" font-style="italic">S</text>
<text x="261.5" y="684.5" font-size="12" font-style="italic">f</text>
<text x="272.5" y="676.5" font-size="21">+</text>
<text x="285" y="676.5" font-size="23" font-style="italic">S</text>
<text x="296" y="683" font-size="12" font-style="italic">r</text>
<path d="M303.50,657.00 C310.83,663.45 310.83,679.85 303.50,686.30 C309.37,679.85 309.37,663.45 303.50,657.00 Z" fill="#000" stroke="#000" stroke-width="0.35"/>
<circle cx="313.4" cy="671.6" r="1.2" fill="#000"/>
<text x="314.5" y="676.5" font-size="23" font-style="italic">v</text>
<text x="324.5" y="683" font-size="12" font-style="italic">s</text>
<circle cx="334.5" cy="671.6" r="1.2" fill="#000"/>
<path d="M346.50,637.70 C337.83,652.62 337.83,690.58 346.50,705.50 C340.23,690.58 340.23,652.62 346.50,637.70 Z" fill="#000" stroke="#000" stroke-width="0.35"/>
<text x="347.5" y="650.6" font-size="12" font-style="italic">T</text>
<text x="355.5" y="653.3" font-size="9" font-style="italic">m</text>
<path d="M358.5,657.6 Q357.5,655.1 355.5,655.1 Q353.5,655.1 353.5,660.1 L353.5,682.2 Q353.5,687.2 351.5,687.2 Q349.5,687.2 348.5,684.7" fill="none" stroke="#000" stroke-width="1.2"/>
<text x="348.5" y="700" font-size="12" font-style="italic">T</text>
<text x="352.7" y="703.7" font-size="9" font-style="italic">a</text>
<text x="360.5" y="676.5" font-size="23" font-style="italic">C</text>
<path d="M379.50,657.00 C372.17,663.38 372.17,679.62 379.50,686.00 C373.63,679.62 373.63,663.38 379.50,657.00 Z" fill="#000" stroke="#000" stroke-width="0.35"/>
<text x="379.5" y="676.5" font-size="23" font-style="italic">T</text>
<path d="M392.80,657.00 C400.13,663.38 400.13,679.62 392.80,686.00 C398.67,679.62 398.67,663.38 392.80,657.00 Z" fill="#000" stroke="#000" stroke-width="0.35"/>
<text x="401.5" y="676.5" font-size="23" font-style="italic" textLength="20" lengthAdjust="spacingAndGlyphs">dT</text>
<text x="424" y="676.5" font-size="21">+</text>
<text x="438.5" y="676.5" font-size="23" font-style="italic" textLength="26" lengthAdjust="spacingAndGlyphs">ΔH</text>
<path d="M466.30,637.70 C474.97,652.62 474.97,690.58 466.30,705.50 C472.57,690.58 472.57,652.62 466.30,637.70 Z" fill="#000" stroke="#000" stroke-width="0.35"/>
<text x="343.5" y="729.5" font-size="23" font-style="italic">P</text>
<text x="189.3" y="791" font-size="22" font-style="italic" textLength="33" lengthAdjust="spacingAndGlyphs">SEC</text>
<text x="222.1" y="797.5" font-size="13" textLength="22" lengthAdjust="spacingAndGlyphs">form−</text>
<text x="244" y="797.5" font-size="13" font-style="italic" textLength="11.5" lengthAdjust="spacingAndGlyphs">ss</text>
<text x="261.5" y="795.5" font-size="20">=</text>
<text x="275.5" y="791" font-size="23" font-style="italic">ρ</text>
<circle cx="292.5" cy="784.4" r="1.2" fill="#000"/>
<path d="M303.20,756.00 C294.53,769.49 294.53,803.81 303.20,817.30 C296.82,803.81 296.82,769.49 303.20,756.00 Z" fill="#000" stroke="#000" stroke-width="0.35"/>
<text x="304.3" y="791.7" font-size="21">1</text>
<text x="311.5" y="791" font-size="20">+</text>
<text x="327.5" y="774.3" font-size="22" font-style="italic">S</text>
<text x="338" y="781" font-size="13" font-style="italic">f</text>
<line x1="327.3" y1="786.5" x2="347.5" y2="786.5" stroke="#000" stroke-width="1.05"/>
<text x="327.5" y="810" font-size="22" font-style="italic">S</text>
<text x="340.5" y="815.5" font-size="13" font-style="italic">r</text>
<path d="M349.30,756.00 C358.63,769.49 358.63,803.81 349.30,817.30 C356.34,803.81 356.34,769.49 349.30,756.00 Z" fill="#000" stroke="#000" stroke-width="0.35"/>
<circle cx="361.2" cy="784.4" r="1.2" fill="#000"/>
<path d="M371.90,750.50 C362.57,766.21 362.57,806.19 371.90,821.90 C364.97,806.19 364.97,766.21 371.90,750.50 Z" fill="#000" stroke="#000" stroke-width="0.35"/>
<text x="374.5" y="761.5" font-size="12" font-style="italic">T</text>
<text x="379.5" y="764.8" font-size="9" font-style="italic">m</text>
<path d="M386.5,771.3 Q385.5,768.8 383.5,768.8 Q381.5,768.8 381.5,773.8 L381.5,798.6 Q381.5,803.6 379.5,803.6 Q377.5,803.6 376.5,801.1" fill="none" stroke="#000" stroke-width="1.2"/>
<text x="375.5" y="816.4" font-size="12" font-style="italic">T</text>
<text x="379.5" y="820.1" font-size="9" font-style="italic">a</text>
<text x="389" y="791" font-size="22" font-style="italic">C</text>
<path d="M408.80,774.30 C401.47,779.95 401.47,794.35 408.80,800.00 C402.93,794.35 402.93,779.95 408.80,774.30 Z" fill="#000" stroke="#000" stroke-width="0.35"/>
<text x="409" y="791" font-size="22" font-style="italic">T</text>
<path d="M422.00,774.30 C429.33,779.95 429.33,794.35 422.00,800.00 C427.87,794.35 427.87,779.95 422.00,774.30 Z" fill="#000" stroke="#000" stroke-width="0.35"/>
<circle cx="432.6" cy="784.4" r="1.2" fill="#000"/>
<text x="436.5" y="791" font-size="22" font-style="italic" textLength="20.5" lengthAdjust="spacingAndGlyphs">dT</text>
<text x="459.5" y="791" font-size="21">+</text>
<text x="473.5" y="791" font-size="22" font-style="italic" textLength="26.8" lengthAdjust="spacingAndGlyphs">ΔH</text>
<path d="M502.20,750.50 C511.53,766.21 511.53,806.19 502.20,821.90 C509.13,806.19 509.13,766.21 502.20,750.50 Z" fill="#000" stroke="#000" stroke-width="0.35"/>
<text x="190.3" y="880" font-size="24" font-style="italic" textLength="42.6" lengthAdjust="spacingAndGlyphs">SEC</text>
<text x="232.9" y="885.3" font-size="14" textLength="44.3" lengthAdjust="spacingAndGlyphs">melt−ss</text>
<text x="283.5" y="880.5" font-size="21">=</text>
<line x1="304" y1="873.5" x2="423.7" y2="873.5" stroke="#000" stroke-width="1.05"/>
<text x="357" y="864.5" font-size="24" font-style="italic">P</text>
<path d="M310.70,878.00 C302.70,885.13 302.70,903.27 310.70,910.40 C304.17,903.27 304.17,885.13 310.70,878.00 Z" fill="#000" stroke="#000" stroke-width="0.35"/>
<text x="314.3" y="899.7" font-size="24" font-style="italic">S</text>
<text x="327.5" y="905.6" font-size="14" font-style="italic">f</text>
<text x="344.5" y="899.7" font-size="22">+</text>
<text x="361.5" y="899.7" font-size="24" font-style="italic">S</text>
<text x="375" y="905" font-size="14" font-style="italic">r</text>
<path d="M387.30,878.00 C395.30,885.13 395.30,903.27 387.30,910.40 C393.83,903.27 393.83,885.13 387.30,878.00 Z" fill="#000" stroke="#000" stroke-width="0.35"/>
<circle cx="396.5" cy="893" r="1.2" fill="#000"/>
<text x="400.5" y="899.7" font-size="24" font-style="italic">v</text>
<text x="414.5" y="905.6" font-size="14" font-style="italic">s</text>
<text x="557.2" y="702" font-size="25" font-style="italic">η</text>
<text x="569.7" y="707.8" font-size="15" font-style="italic" textLength="15.7" lengthAdjust="spacingAndGlyphs">sm</text>
<text x="593" y="702.5" font-size="21">=</text>
<text x="615.5" y="686.2" font-size="19">1</text>
<line x1="613" y1="696.5" x2="627.8" y2="696.5" stroke="#000" stroke-width="1.05"/>
<text x="614" y="721.7" font-size="24" font-style="italic">n</text>
<circle cx="636" cy="696" r="1.2" fill="#000"/>
<polygon points="641.6,681.6 665.6,681.6 666.3,688.1 664.8,688.1 661.4,683.9 646.5,683.9 654.4,696.4 645.1,708.9 662.8,708.9 665.8,704.7 666.8,704.7 665.1,711.2 641.6,711.2 641.6,710.0 652.0,696.4 641.6,682.8" fill="#000"/>
<text x="650.5" y="675.7" font-size="12" font-style="italic">n</text>
<text x="645.6" y="725" font-size="11" font-style="italic">i</text>
<text x="650.5" y="725" font-size="11" textLength="11.5" lengthAdjust="spacingAndGlyphs">=1</text>
<text x="670.2" y="702" font-size="24" font-style="italic">k</text>
<text x="683.5" y="690.5" font-size="12" font-style="italic">i</text>
<text x="682" y="707.8" font-size="15" font-style="italic" textLength="14.8" lengthAdjust="spacingAndGlyphs">sm</text>
<circle cx="707" cy="696" r="1.2" fill="#000"/>
<text x="712.6" y="702" font-size="25" font-style="italic">η</text>
<text x="724.5" y="707.8" font-size="15" font-style="italic" textLength="11.8" lengthAdjust="spacingAndGlyphs">ss</text>
<text x="557.2" y="796.8" font-size="23" font-style="italic" textLength="36" lengthAdjust="spacingAndGlyphs">SEC</text>
<text x="593.3" y="802.3" font-size="15" font-style="italic" textLength="38.5" lengthAdjust="spacingAndGlyphs">form−sm</text>
<text x="635.5" y="797" font-size="20">=</text>
<text x="654" y="780.6" font-size="17">1</text>
<line x1="650.5" y1="791.5" x2="662.3" y2="791.5" stroke="#000" stroke-width="1.05"/>
<text x="652.5" y="815.1" font-size="22" font-style="italic">n</text>
<circle cx="668.2" cy="791" r="1.2" fill="#000"/>
<polygon points="672.2,775.7 695.2,775.7 695.9,782.0 694.5,782.0 691.2,777.9 676.9,777.9 684.5,790.0 675.5,802.1 692.6,802.1 695.4,798.0 696.4,798.0 694.7,804.3 672.2,804.3 672.2,803.2 682.2,790.0 672.2,776.8" fill="#000"/>
<text x="679.1" y="771.2" font-size="11" font-style="italic">n</text>
<text x="675.2" y="819.1" font-size="10" font-style="italic">i</text>
<text x="679.5" y="819.1" font-size="10" textLength="8.5" lengthAdjust="spacingAndGlyphs">=1</text>
<text x="693.9" y="796.8" font-size="22" font-style="italic">k</text>
<text x="703.7" y="786" font-size="12" font-style="italic">j</text>
<text x="701.8" y="802.3" font-size="14" font-style="italic" textLength="13.8" lengthAdjust="spacingAndGlyphs">sm</text>
<circle cx="720.5" cy="791" r="1.2" fill="#000"/>
<text x="726" y="796.8" font-size="23" font-style="italic" textLength="35" lengthAdjust="spacingAndGlyphs">SEC</text>
<text x="761" y="802.3" font-size="15" font-style="italic" textLength="33.5" lengthAdjust="spacingAndGlyphs">form−ss</text>
<text x="553.9" y="876.4" font-size="24" font-style="italic" textLength="41.4" lengthAdjust="spacingAndGlyphs">SEC</text>
<text x="595.3" y="883.3" font-size="14.5" font-style="italic" textLength="46.3" lengthAdjust="spacingAndGlyphs">melt−sm</text>
<text x="648.5" y="877" font-size="21">=</text>
<line x1="667.3" y1="871.5" x2="755.6" y2="871.5" stroke="#000" stroke-width="1.05"/>
<text x="669.2" y="861" font-size="24" font-style="italic" textLength="40.5" lengthAdjust="spacingAndGlyphs">SEC</text>
<text x="709.7" y="867.5" font-size="14.5" font-style="italic" textLength="41.4" lengthAdjust="spacingAndGlyphs">melt−ss</text>
<text x="693.3" y="884.3" font-size="12" font-style="italic">n</text>
<polygon points="685.0,890.2 708.0,890.2 708.7,896.3 707.3,896.3 704.0,892.3 689.7,892.3 697.3,904.0 688.3,915.7 705.4,915.7 708.2,911.7 709.2,911.7 707.5,917.8 685.0,917.8 685.0,916.7 695.0,904.0 685.0,891.3" fill="#000"/>
<text x="711.6" y="909.5" font-size="24" font-style="italic">k</text>
<text x="722.5" y="899" font-size="12" font-style="italic">i</text>
<text x="721.5" y="915.9" font-size="15" font-style="italic" textLength="14.8" lengthAdjust="spacingAndGlyphs">sm</text>
<text x="688.6" y="932.6" font-size="12" font-style="italic">i</text>
<text x="693.5" y="932.6" font-size="12" textLength="11.2" lengthAdjust="spacingAndGlyphs">=1</text>
<text x="864.2" y="697" font-size="26" font-style="italic">η</text>
<text x="876.6" y="704.2" font-size="15" font-style="italic" textLength="15.8" lengthAdjust="spacingAndGlyphs">ms</text>
<text x="901.5" y="698" font-size="22">=</text>
<text x="929.5" y="679.6" font-size="24">1</text>
<line x1="922" y1="691.5" x2="943.7" y2="691.5" stroke="#000" stroke-width="1.05"/>
<text x="924.5" y="718" font-size="26" font-style="italic">m</text>
<circle cx="952" cy="691.5" r="1.2" fill="#000"/>
<polygon points="958.0,674.7 984.3,674.7 985.1,681.9 983.5,681.9 979.7,677.2 963.4,677.2 972.1,691.0 961.8,704.7 981.3,704.7 984.6,700.1 985.6,700.1 983.7,707.2 958.0,707.2 958.0,705.9 969.4,691.0 958.0,676.0" fill="#000"/>
<text x="965.4" y="669.7" font-size="13" font-style="italic">m</text>
<text x="959.4" y="723" font-size="12" font-style="italic">j</text>
<text x="966" y="723" font-size="12" textLength="15" lengthAdjust="spacingAndGlyphs">=1</text>
<text x="988" y="697" font-size="26" font-style="italic">k</text>
<text x="1003.8" y="685.5" font-size="13" font-style="italic">j</text>
<text x="999.9" y="704.2" font-size="15" font-style="italic" textLength="15.7" lengthAdjust="spacingAndGlyphs">ms</text>
<circle cx="1025" cy="691.5" r="1.2" fill="#000"/>
<text x="1031.4" y="697" font-size="26" font-style="italic">η</text>
<text x="1045.2" y="704.2" font-size="15" font-style="italic" textLength="10.8" lengthAdjust="spacingAndGlyphs">ss</text>
<text x="856.1" y="794.5" font-size="25" font-style="italic" textLength="38.8" lengthAdjust="spacingAndGlyphs">SEC</text>
<text x="894.9" y="801" font-size="15" font-style="italic" textLength="46" lengthAdjust="spacingAndGlyphs">form−ms</text>
<text x="946.5" y="795" font-size="21">=</text>
<text x="969.5" y="778.6" font-size="22">1</text>
<line x1="964.4" y1="788.5" x2="980.7" y2="788.5" stroke="#000" stroke-width="1.05"/>
<text x="965.4" y="814.3" font-size="24" font-style="italic">m</text>
<circle cx="986.8" cy="788.8" r="1.2" fill="#000"/>
<polygon points="993.0,774.5 1015.7,774.5 1016.4,781.0 1015.0,781.0 1011.7,776.8 997.7,776.8 1005.2,789.3 996.3,801.8 1013.1,801.8 1015.9,797.6 1016.9,797.6 1015.2,804.1 993.0,804.1 993.0,802.9 1002.8,789.3 993.0,775.7" fill="#000"/>
<text x="998" y="769.4" font-size="12" font-style="italic">m</text>
<text x="994" y="818.4" font-size="11" font-style="italic">j</text>
<text x="1000" y="818.4" font-size="11" textLength="12" lengthAdjust="spacingAndGlyphs">=1</text>
<text x="1017.4" y="794.5" font-size="24" font-style="italic">k</text>
<text x="1027.5" y="784" font-size="12" font-style="italic">j</text>
<text x="1025.6" y="801" font-size="15" font-style="italic" textLength="15.3" lengthAdjust="spacingAndGlyphs">ms</text>
<circle cx="1047" cy="788.8" r="1.2" fill="#000"/>
<text x="1054.2" y="794.5" font-size="25" font-style="italic" textLength="38.8" lengthAdjust="spacingAndGlyphs">SEC</text>
<text x="1093" y="801" font-size="15" font-style="italic" textLength="39.8" lengthAdjust="spacingAndGlyphs">form−ss</text>
<text x="858.3" y="871.4" font-size="22.5" font-style="italic" textLength="43.4" lengthAdjust="spacing">SEC</text>
<text x="903.2" y="877.3" font-size="13.5" font-style="italic" textLength="50.3" lengthAdjust="spacing">melt−ms</text>
<text x="961.5" y="872" font-size="21">=</text>
<line x1="983.1" y1="866.5" x2="1080.7" y2="866.5" stroke="#000" stroke-width="1.05"/>
<text x="985.1" y="856" font-size="22.5" font-style="italic" textLength="43.4" lengthAdjust="spacing">SEC</text>
<text x="1030.4" y="862" font-size="13.5" font-style="italic" textLength="45.4" lengthAdjust="spacing">melt−ss</text>
<text x="1009.7" y="878.3" font-size="12" font-style="italic">m</text>
<polygon points="1002.8,882.3 1024.8,882.3 1025.5,888.6 1024.1,888.6 1021.0,884.5 1007.3,884.5 1014.6,896.6 1006.0,908.7 1022.3,908.7 1025.0,904.6 1026.0,904.6 1024.4,910.9 1002.8,910.9 1002.8,909.8 1012.3,896.6 1002.8,883.4" fill="#000"/>
<text x="1032.4" y="902" font-size="24" font-style="italic">k</text>
<text x="1048" y="893" font-size="13" font-style="italic">j</text>
<text x="1044.2" y="907.9" font-size="14" font-style="italic" textLength="14.8" lengthAdjust="spacing">ms</text>
<text x="1005.8" y="924.7" font-size="12" font-style="italic">j</text>
<text x="1012" y="924.7" font-size="12" textLength="13.5" lengthAdjust="spacing">=1</text>
</svg>
<!--/FORM-->
</body></html>
